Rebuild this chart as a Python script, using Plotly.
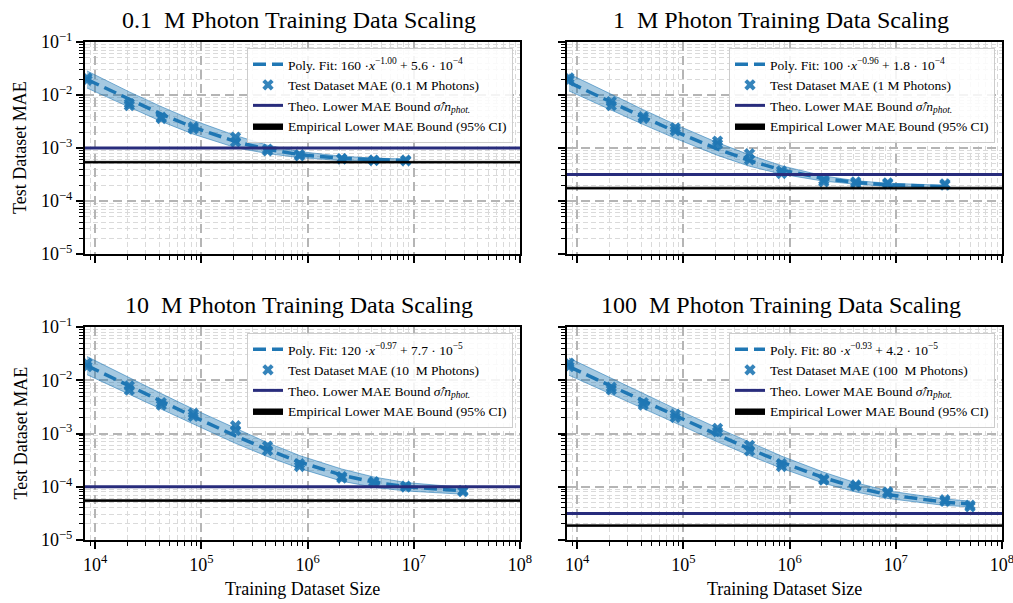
import plotly.graph_objects as go

# ---------------- data ----------------
train_sizes_base = [8.4e3, 2.1e4, 4.2e4, 8.4e4, 2.1e5, 4.2e5, 8.4e5, 2.1e6, 4.2e6, 8.4e6]
train_sizes_01M = train_sizes_base
train_sizes_1M = train_sizes_base + [2.9e7]
train_sizes_10M = train_sizes_base + [2.9e7]
train_sizes_100M = train_sizes_base + [2.9e7, 5.0e7]

mae_01M_run_a = [0.021, 0.0069, 0.0038, 0.0025, 0.0016, 0.00095, 0.00075, 0.00063, 0.00059, 0.00059]
mae_01M_run_b = [0.019, 0.0063, 0.0036, 0.0023, 0.0013, 0.00088, 0.00071, 0.00062, 0.00058, 0.00057]

mae_1M_run_a = [0.021, 0.0075, 0.0039, 0.0024, 0.00135, 0.00078, 0.00037, 0.00025, 0.00023, 0.00022, 0.00021]
mae_1M_run_b = [0.019, 0.0063, 0.0036, 0.0021, 0.00118, 0.00060, 0.00033, 0.00023, 0.000215, 0.00021, 0.00020]

mae_10M_run_a = [0.021, 0.0078, 0.0038, 0.0024, 0.0014, 0.00058, 0.00027, 0.000155, 0.000125, 0.000103, 0.000085]
mae_10M_run_b = [0.018, 0.0065, 0.0034, 0.0021, 0.00115, 0.00048, 0.00024, 0.000145, 0.000118, 0.000099, 0.000081]

mae_100M_run_a = [0.021, 0.0074, 0.0038, 0.0023, 0.00125, 0.00060, 0.00027, 0.00014, 0.000108, 0.000080, 0.000057, 0.000045]
mae_100M_run_b = [0.018, 0.0066, 0.0034, 0.0020, 0.00108, 0.00047, 0.00024, 0.000133, 0.000103, 0.000075, 0.000053, 0.000042]

# poly fit parameters (a * x^b + c), as printed in legends
fit_01M = (160, -1.00, 5.6e-4)
fit_1M = (100, -0.96, 1.8e-4)
fit_10M = (120, -0.97, 7.7e-5)
fit_100M = (80, -0.93, 4.2e-5)

# multiplicative half-width of the fit confidence band
band_01M = [1.45, 1.40, 1.38, 1.35, 1.30, 1.20, 1.14, 1.10, 1.08, 1.07]
band_1M = [1.45, 1.40, 1.38, 1.35, 1.32, 1.28, 1.20, 1.12, 1.08, 1.07, 1.06]
band_10M = [1.48, 1.42, 1.40, 1.38, 1.38, 1.35, 1.32, 1.30, 1.25, 1.20, 1.16]
band_100M = [1.45, 1.40, 1.38, 1.36, 1.35, 1.33, 1.30, 1.27, 1.22, 1.18, 1.15, 1.13]

theo_bound = [1.0e-3, 3.16e-4, 1.0e-4, 3.16e-5]
emp_bound_lo = [5.2e-4, 1.68e-4, 5.3e-5, 1.80e-5]
emp_bound_hi = [5.6e-4, 1.82e-4, 5.7e-5, 1.93e-5]

panel_titles = ["0.1\u2002M Photon Training Data Scaling", "1\u2002M Photon Training Data Scaling",
                "10\u2002M Photon Training Data Scaling", "100\u2002M Photon Training Data Scaling"]
photon_labels = ["0.1 M", "1 M", "10\u2002M", "100\u2002M"]

x_tick_exps = [4, 5, 6, 7, 8]
y_tick_exps = [-5, -4, -3, -2, -1]
X_LOG_RANGE = [3.905, 8.0]
Y_LOG_RANGE = [-5.0, -1.0]

panels = [
    (train_sizes_01M, [mae_01M_run_a, mae_01M_run_b], fit_01M, band_01M),
    (train_sizes_1M, [mae_1M_run_a, mae_1M_run_b], fit_1M, band_1M),
    (train_sizes_10M, [mae_10M_run_a, mae_10M_run_b], fit_10M, band_10M),
    (train_sizes_100M, [mae_100M_run_a, mae_100M_run_b], fit_100M, band_100M),
]

# ---------------- styling ----------------
FONT = "Liberation Serif"
BLUE = "#1f77b4"
NAVY = "#282c7c"
W, H = 1013, 603
# plot-area pixel boxes (left, right, top, bottom)
boxes = [(85, 520, 42, 254), (567, 1002, 42, 254), (85, 520, 327, 540), (567, 1002, 327, 540)]


def sup(s):
    return s.replace("-", "\u2212")


def fit_label(a, b, c):
    mant, exp = f"{c:.1e}".split("e")
    return (f"Poly. Fit: {a:g} ·<i>x</i><sup>{sup(f'{b:.2f}')}</sup> + {mant} · 10"
            f"<sup>{sup(str(int(exp)))}</sup>")


fig = go.Figure()
x_min, x_max = 10 ** X_LOG_RANGE[0], 10 ** X_LOG_RANGE[1]

for i, (xs, runs, (a, b, c), band) in enumerate(panels):
    k = i + 1
    xa, ya = f"x{k}", f"y{k}"
    leg = "legend" if k == 1 else f"legend{k}"
    fit_y = [a * x ** b + c for x in xs]
    upper = [f * m for f, m in zip(fit_y, band)]
    lower = [f / m for f, m in zip(fit_y, band)]
    # band
    fig.add_trace(go.Scatter(x=xs + xs[::-1], y=upper + lower[::-1], fill="toself",
                             fillcolor="rgba(31,119,180,0.40)",
                             line=dict(color="rgba(31,119,180,0.55)", width=1),
                             hoverinfo="skip", showlegend=False, xaxis=xa, yaxis=ya))
    # fit line
    fig.add_trace(go.Scatter(x=xs, y=fit_y, mode="lines", name=fit_label(a, b, c),
                             line=dict(color=BLUE, width=3.5, dash="13px,6px"),
                             xaxis=xa, yaxis=ya, legend=leg))
    # markers
    for j, run in enumerate(runs):
        fig.add_trace(go.Scatter(x=xs, y=run, mode="markers",
                                 name=f"Test Dataset MAE ({photon_labels[i]} Photons)",
                                 marker=dict(symbol="x", size=10, color=BLUE, opacity=0.9,
                                             line=dict(width=0)),
                                 showlegend=(j == 0), legendgroup=f"m{k}",
                                 xaxis=xa, yaxis=ya, legend=leg))
    # theoretical bound
    fig.add_trace(go.Scatter(x=[x_min, x_max], y=[theo_bound[i]] * 2, mode="lines",
                             name="Theo. Lower MAE Bound <i>σ̂</i>/<i>n</i><sub><i>phot.</i></sub>",
                             line=dict(color=NAVY, width=3), xaxis=xa, yaxis=ya, legend=leg))
    # empirical bound (CI band)
    fig.add_trace(go.Scatter(x=[x_min, x_max, x_max, x_min],
                             y=[emp_bound_lo[i], emp_bound_lo[i], emp_bound_hi[i], emp_bound_hi[i]],
                             fill="toself", fillcolor="black", mode="lines",
                             line=dict(color="black", width=0.8),
                             name="Empirical Lower MAE Bound (95% CI)",
                             xaxis=xa, yaxis=ya, legend=leg))

layout = dict(width=W, height=H, autosize=False, margin=dict(l=0, r=0, t=0, b=0, autoexpand=False),
              paper_bgcolor="white", plot_bgcolor="white",
              font=dict(family=FONT, size=17, color="black"))

x_minor = [m * 10 ** e for e in range(3, 8) for m in range(2, 10)]
y_minor = [m * 10 ** e for e in range(-5, -1) for m in range(2, 10)]

for i, (l, r, t, btm) in enumerate(boxes):
    k = i + 1
    common = dict(type="log", automargin=False, showline=True, linecolor="black", linewidth=2,
                  mirror=True, ticks="outside", ticklen=7, tickwidth=2, tickcolor="black",
                  showgrid=True, gridcolor="#b5b5b5", gridwidth=1.8, griddash="9px,5px",
                  zeroline=False, ticklabeloverflow="allow",
                  tickfont=dict(family=FONT, size=18, color="black"))
    xax = dict(common, domain=[l / W, r / W], range=X_LOG_RANGE, anchor=f"y{k}",
               tickmode="array", tickvals=[10 ** e for e in x_tick_exps],
               ticktext=[f"10<sup>{e}</sup>" for e in x_tick_exps],
               showticklabels=(k >= 3),
               minor=dict(tickmode="array", tickvals=x_minor, ticks="outside", ticklen=4,
                          tickwidth=1.2, tickcolor="black", showgrid=True,
                          gridcolor="#dadada", gridwidth=1, griddash="5px,3px"))
    yax = dict(common, domain=[1 - btm / H, 1 - t / H], range=Y_LOG_RANGE, anchor=f"x{k}",
               tickmode="array", tickvals=[10 ** e for e in y_tick_exps],
               ticktext=[f"10<sup>{sup(str(e))}</sup>" for e in y_tick_exps],
               showticklabels=(k in (1, 3)),
               minor=dict(tickmode="array", tickvals=y_minor, ticks="outside", ticklen=4,
                          tickwidth=1.2, tickcolor="black", showgrid=True,
                          gridcolor="#dadada", gridwidth=1, griddash="5px,3px"))
    layout["xaxis" if k == 1 else f"xaxis{k}"] = xax
    layout["yaxis" if k == 1 else f"yaxis{k}"] = yax
    layout["legend" if k == 1 else f"legend{k}"] = dict(
        x=(r - 7) / W, y=1 - (t + 6) / H, xanchor="right", yanchor="top",
        bgcolor="rgba(255,255,255,0.85)", bordercolor="#cccccc", borderwidth=1,
        font=dict(family=FONT, size=13.5, color="black"), itemwidth=30, tracegroupgap=0)

annotations = []
for i, (l, r, t, btm) in enumerate(boxes):
    annotations.append(dict(text=panel_titles[i], xref="paper", yref="paper",
                            x=(l + r) / 2 / W - 4 / W, y=1 - (t - 22) / H, xanchor="center",
                            yanchor="middle", showarrow=False,
                            font=dict(family=FONT, size=24, color="black")))
    if i >= 2:
        annotations.append(dict(text="Training Dataset Size", xref="paper", yref="paper",
                                x=(l + r) / 2 / W, y=1 - 589 / H, xanchor="center",
                                yanchor="middle", showarrow=False,
                                font=dict(family=FONT, size=18, color="black")))
    if i in (0, 2):
        annotations.append(dict(text="Test Dataset MAE", xref="paper", yref="paper",
                                x=20 / W, y=1 - (t + btm) / 2 / H, xanchor="center",
                                yanchor="middle", textangle=-90, showarrow=False,
                                font=dict(family=FONT, size=18, color="black")))
layout["annotations"] = annotations

fig.update_layout(**layout)
fig.write_html("out.html", config={"displayModeBar": False},
               post_script="document.body.style.margin='0';document.body.style.overflow='hidden';")
